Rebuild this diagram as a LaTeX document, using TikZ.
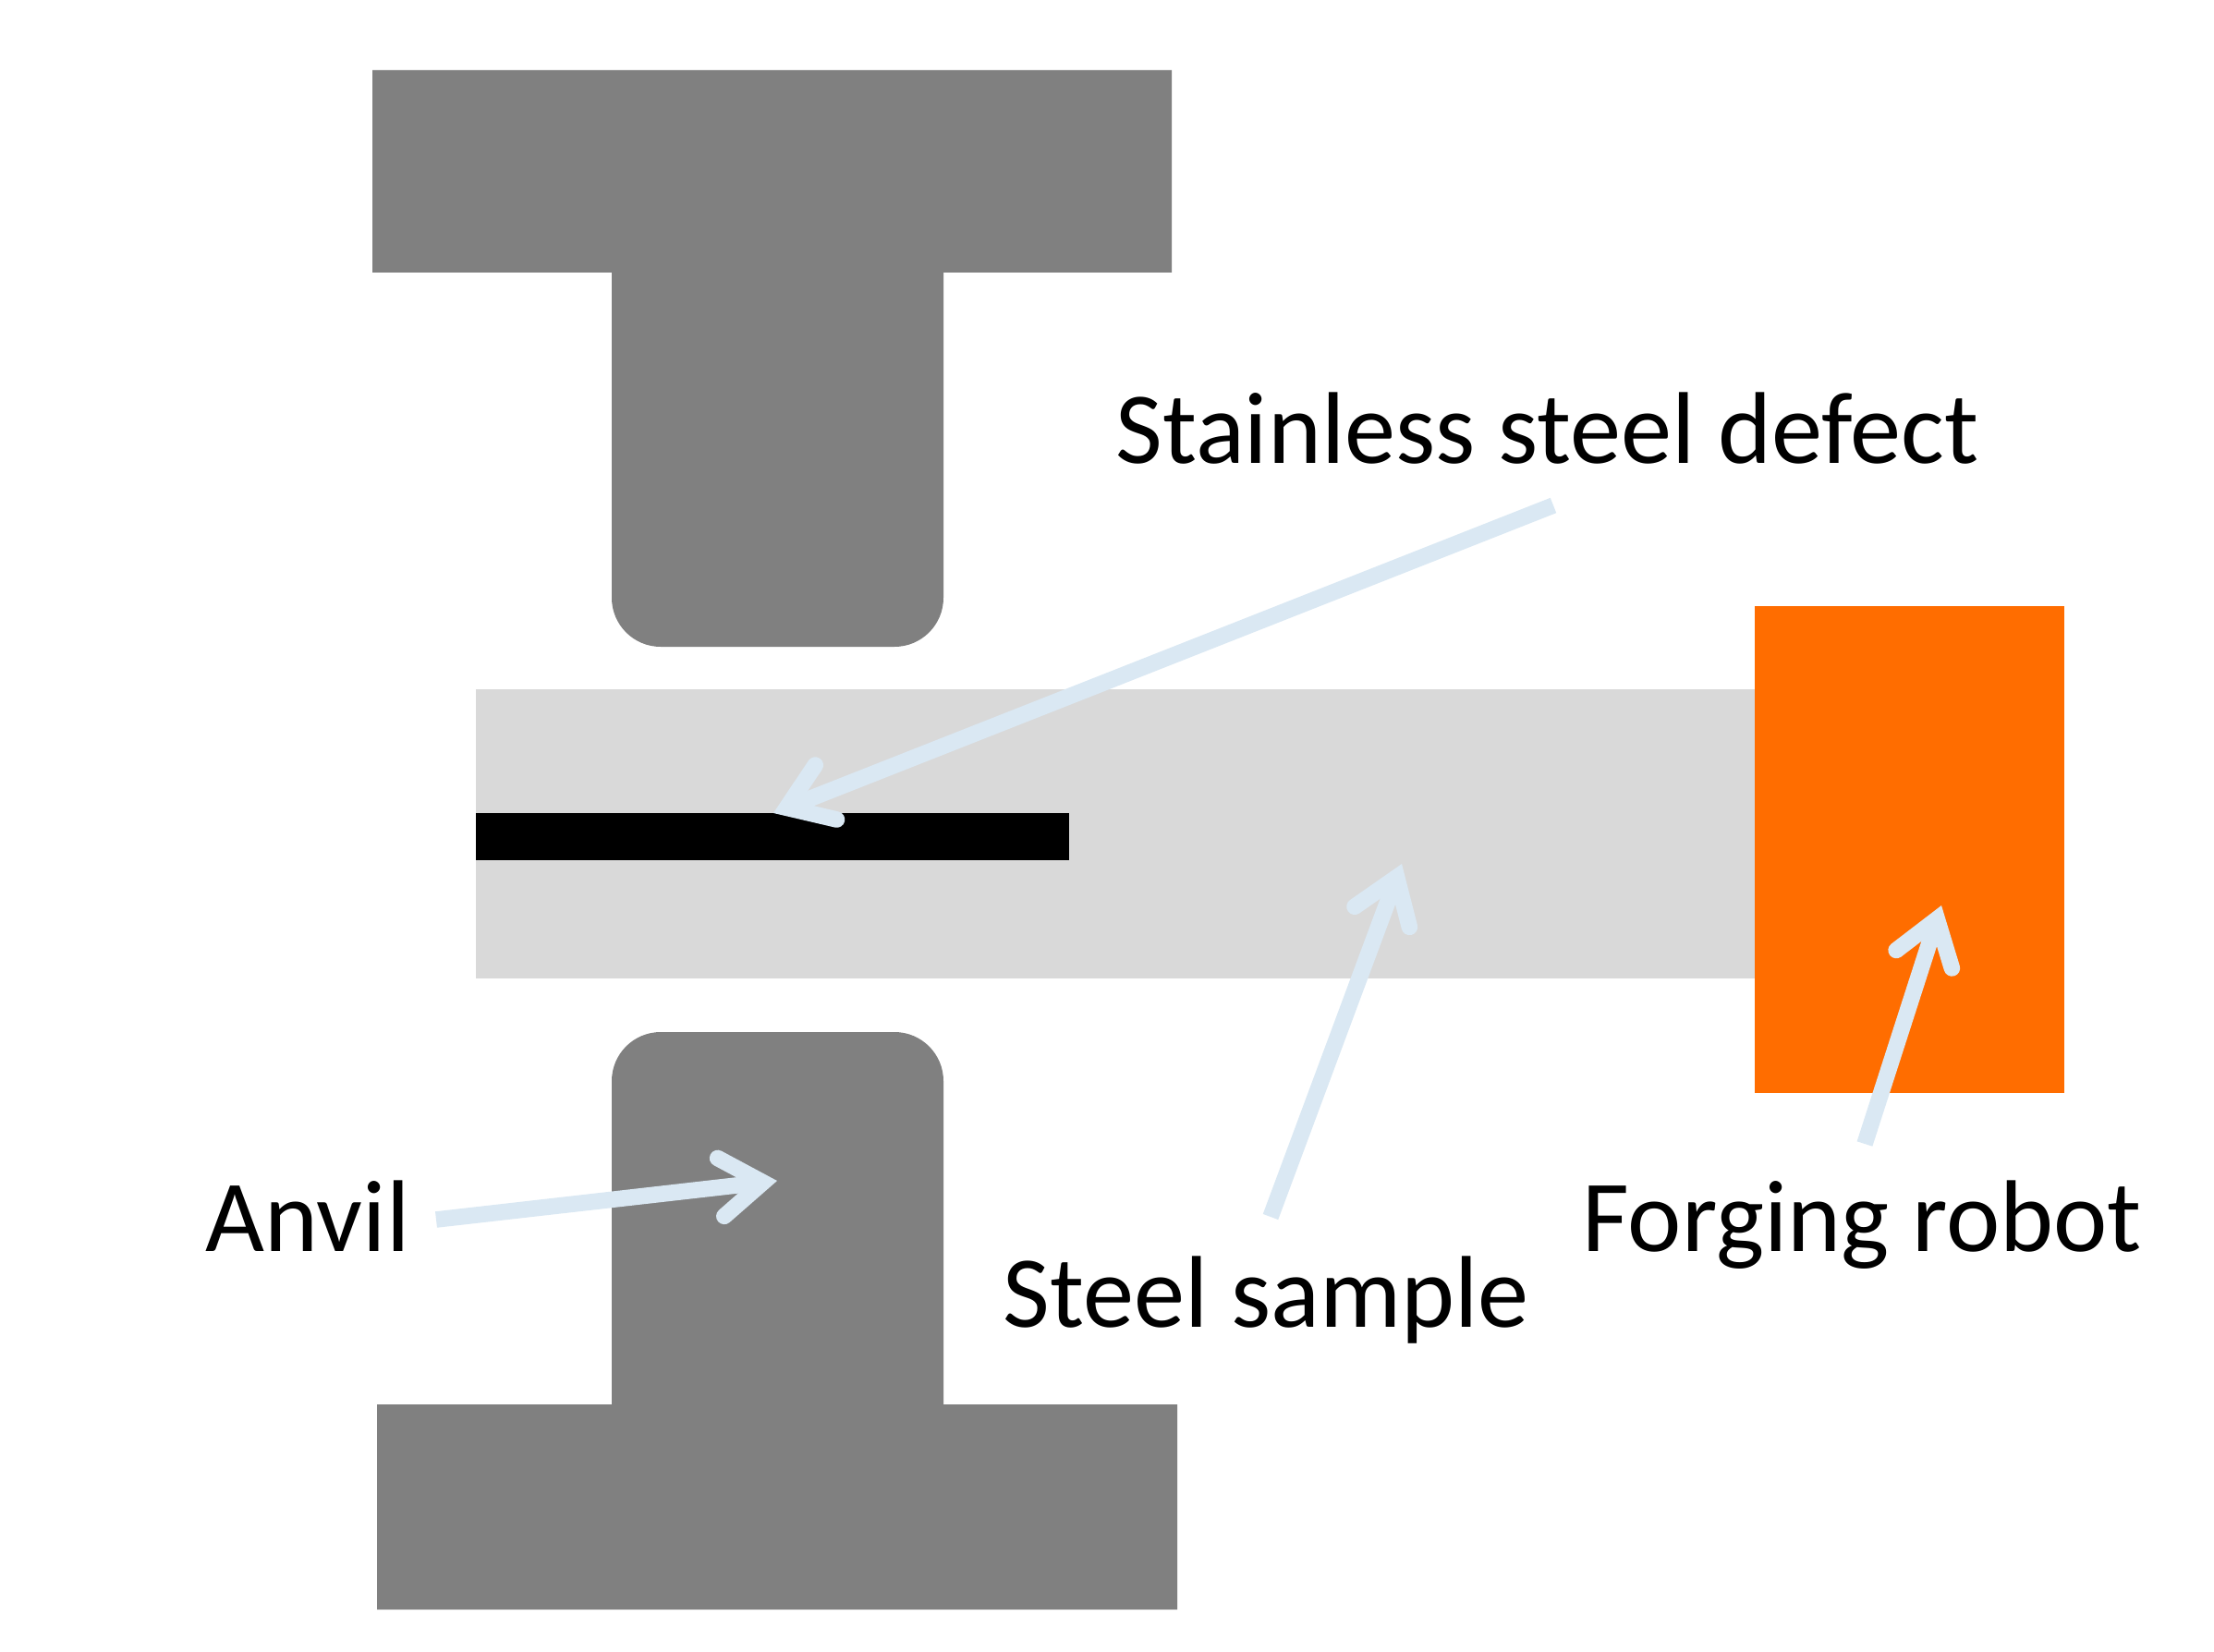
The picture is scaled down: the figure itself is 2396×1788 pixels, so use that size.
\documentclass[tikz,border=0pt]{standalone}
\usepackage{fontspec}
\setmainfont{Carlito}
\usetikzlibrary{arrows.meta}
\definecolor{anvilgrey}{HTML}{808080}
\definecolor{samplegrey}{HTML}{D9D9D9}
\definecolor{robotorange}{HTML}{FF6D00}
\definecolor{arrowblue}{HTML}{DAE8F3}
\tikzset{
  anvilpart/.style={fill=anvilgrey,draw=none},
  labeltext/.style={anchor=base west,inner sep=0pt,font=\fontsize{31.4}{36}\selectfont,text=black},
  callout/.style={draw=arrowblue,line width=5pt,-{Straight Barb[length=13pt,width=18pt,line cap=round,line join=miter]}}
}
\begin{document}
\begin{tikzpicture}[x=0.01cm,y=-0.01cm]
\useasboundingbox (0,0) rectangle (2396,1788);
% upper anvil
\fill[anvilpart] (403,76) -- (1268,76) -- (1268,295) -- (1021,295) -- (1021,647)
  arc[start angle=0,end angle=90,radius=53] -- (715,700)
  arc[start angle=90,end angle=180,radius=53] -- (662,295) -- (403,295) -- cycle;
% lower anvil
\fill[anvilpart] (408,1742) -- (1274,1742) -- (1274,1520) -- (1021,1520) -- (1021,1170)
  arc[start angle=0,end angle=-90,radius=53] -- (715,1117)
  arc[start angle=-90,end angle=-180,radius=53] -- (662,1520) -- (408,1520) -- cycle;
% sample, defect, robot
\fill[samplegrey] (515,746) rectangle (1899,1059);
\fill[black] (515,880) rectangle (1157,931);
\fill[robotorange] (1899,656) rectangle (2234,1183);
% labels
\node[labeltext] (defect) at (1207,501) {Stainless steel defect};
\node[labeltext] (anvil) at (222,1354) {Anvil};
\node[labeltext] (sample) at (1085,1436) {Steel sample};
\node[labeltext] (robot) at (1712,1354) {Forging robot};
% connector ends
\coordinate (defectstart) at (1681,547);
\coordinate (defecttip) at (837,880);
\coordinate (anvilstart) at (472,1320);
\coordinate (anviltip) at (841,1278);
\coordinate (samplestart) at (1375,1317);
\coordinate (sampletip) at (1517,935);
\coordinate (robotstart) at (2018,1238);
\coordinate (robottip) at (2101,980);
\draw[callout] (defectstart) -- (defecttip);
\draw[callout] (anvilstart) -- (anviltip);
\draw[callout] (samplestart) -- (sampletip);
\draw[callout] (robotstart) -- (robottip);
\end{tikzpicture}
\end{document}
